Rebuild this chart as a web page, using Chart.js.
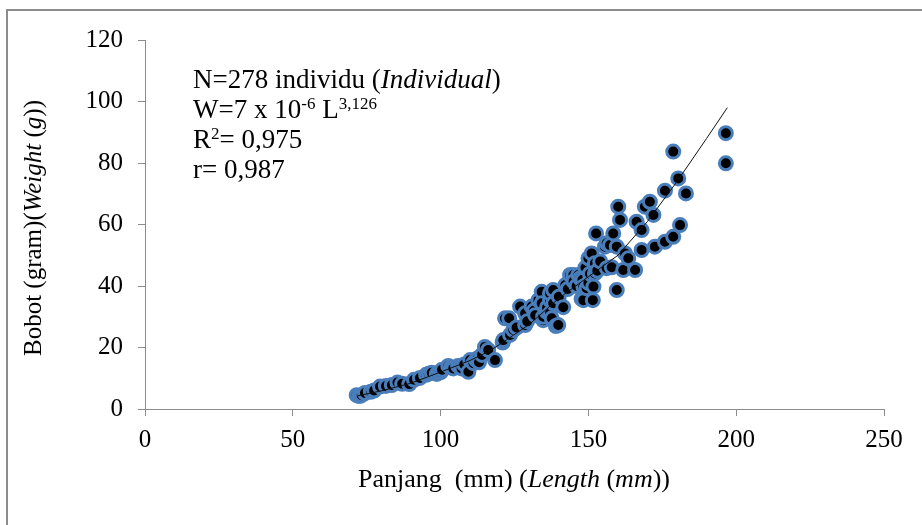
<!DOCTYPE html>
<html>
<head>
<meta charset="utf-8">
<script src="https://cdn.jsdelivr.net/npm/chart.js@4"></script>
<style>
  body { margin: 0; width: 922px; height: 525px; overflow: hidden; background: #fff; position: relative; font-family: "Liberation Serif", "DejaVu Serif", serif; color: #000; }
  #frame { position: absolute; left: 6px; top: 9px; width: 960px; height: 560px; border: 2px solid #8c8c8c; }
  #chart { position: absolute; left: 0; top: 0; }
  .lbl { position: absolute; white-space: nowrap; }
  #y-title { left: 33px; top: 228px; font-size: 25px; transform: translate(-50%, -50%) rotate(-90deg); }
  #x-title { left: 514px; top: 479px; font-size: 26px; transform: translate(-50%, -50%); }
  #note { left: 193px; top: 64px; font-size: 27px; line-height: 30px; }
  #note sup { font-size: 17px; vertical-align: 9px; line-height: 0; }
</style>
</head>
<body>
<div id="frame"></div>
<canvas id="chart" width="922" height="525"></canvas>
<div class="lbl" id="y-title">Bobot (gram)(<i>Weight</i> (<i>g</i>))</div>
<div class="lbl" id="x-title">Panjang&nbsp; (mm) (<i>Length</i> (<i>mm</i>))</div>
<div class="lbl" id="note">
  N=278 individu (<i>Individual</i>)<br>
  W=7 x 10<sup>-6</sup> L<sup>3,126</sup><br>
  R<sup>2</sup>= 0,975<br>
  r= 0,987
</div>
<script>
// observed fish
const lengthMm = [
  71.6, 72.5, 73.3, 74.4, 76.4, 77.5, 79.5, 81.5, 83.5, 85.4,
  87.0, 89.4, 91.0, 93.0, 95.1, 96.0, 97.0, 98.7, 99.5, 100.1,
  100.5, 102.6, 103.5, 104.3, 105.9, 106.5, 107.1, 108.0, 109.4, 110.0,
  111.1, 112.0, 112.7, 113.0, 114.0, 115.0, 116.1, 118.4, 121.0, 121.2,
  121.8, 123.2, 123.5, 124.6, 125.7, 126.9, 128.6, 128.6, 129.3, 130.8,
  131.6, 132.0, 133.1, 134.2, 134.2, 134.7, 134.7, 135.9, 136.0, 137.0,
  137.0, 137.0, 137.6, 138.1, 138.1, 139.0, 139.8, 140.0, 141.5, 142.2,
  143.0, 143.8, 144.9, 145.0, 146.0, 146.6, 147.2, 147.7, 148.0, 148.3,
  148.3, 149.0, 149.4, 150.0, 150.0, 150.5, 151.1, 151.5, 151.7, 152.2,
  152.2, 152.6, 153.0, 154.0, 155.6, 156.2, 156.2, 157.3, 157.9, 158.4,
  159.6, 159.6, 160.1, 160.7, 161.8, 162.4, 163.5, 165.8, 166.3, 168.0,
  168.0, 169.1, 170.8, 172.0, 172.5, 175.9, 175.9, 178.7, 178.7, 180.4,
  181.0, 183.0, 196.5, 196.5
];
const weightG = [
  4.5, 4.2, 4.5, 5.2, 5.6, 6.0, 7.3, 7.5, 7.8, 8.6,
  8.2, 8.1, 9.5, 10.1, 11.1, 11.5, 11.8, 11.4, 11.8, 12.0,
  12.8, 14.0, 13.5, 13.2, 14.0, 13.8, 13.2, 14.5, 12.1, 15.9,
  14.9, 16.0, 16.6, 15.2, 17.6, 20.2, 19.2, 15.9, 21.6, 22.4,
  29.5, 29.5, 24.1, 25.7, 26.5, 33.3, 31.1, 27.3, 28.5, 33.3,
  32.0, 30.5, 35.4, 38.1, 34.4, 28.9, 30.0, 31.6, 33.0, 31.1,
  35.4, 37.6, 29.5, 34.4, 38.7, 27.0, 27.3, 36.5, 33.1, 40.3,
  39.0, 43.6, 43.6, 41.5, 40.0, 43.6, 42.5, 35.8, 42.0, 39.8,
  35.4, 46.0, 39.3, 49.0, 41.0, 44.0, 50.6, 35.4, 39.8, 44.1,
  47.4, 57.1, 45.0, 48.0, 52.8, 45.8, 53.9, 53.3, 46.1, 57.1,
  38.7, 52.8, 65.8, 61.5, 45.2, 50.6, 49.0, 45.2, 60.9, 58.2,
  51.7, 65.8, 67.4, 63.1, 52.8, 54.4, 71.0, 56.0, 83.7, 75.0,
  59.8, 70.1, 89.7, 79.9
];

// fitted curve W = 7e-6 L^3.126, as drawn on the plot
const fitLength = [72, 80, 90, 100, 110, 116, 120, 130, 140, 150, 160, 170, 180, 190, 197];
const fitWeight = [4.3, 5.9, 8.4, 12.0, 15.8, 18.6, 21.0, 27.5, 36.0, 43.0, 50.0, 61.0, 74.0, 88.0, 98.0];

const xTicks = [0, 50, 100, 150, 200, 250];
const yTicks = [0, 20, 40, 60, 80, 100, 120];

const axisGrey = "#8c8c8c";
const tickFont = { family: "Liberation Serif", size: 25 };

const points = lengthMm.map((l, i) => ({ x: l, y: weightG[i] }));
const fit = fitLength.map((l, i) => ({ x: l, y: fitWeight[i] }));

new Chart(document.getElementById("chart"), {
  type: "scatter",
  data: {
    datasets: [
      {
        label: "fit",
        data: fit,
        showLine: true,
        borderColor: "#111",
        borderWidth: 1,
        pointRadius: 0,
        tension: 0,
        order: 0
      },
      {
        label: "observed",
        data: points,
        backgroundColor: "#000",
        borderColor: "#4a7ebb",
        borderWidth: 3,
        pointRadius: 6.5,
        order: 1
      }
    ]
  },
  options: {
    responsive: false,
    animation: false,
    devicePixelRatio: 1,
    layout: { padding: { top: 40, right: 38, left: 0, bottom: 0 } },
    plugins: { legend: { display: false }, tooltip: { enabled: false } },
    scales: {
      x: {
        type: "linear",
        min: xTicks[0],
        max: xTicks[xTicks.length - 1],
        afterFit: (scale) => { scale.height = 116; },
        afterBuildTicks: (scale) => { scale.ticks = xTicks.map(v => ({ value: v })); },
        ticks: { font: tickFont, color: "#000", padding: 9, maxRotation: 0 },
        grid: { drawOnChartArea: false, drawTicks: true, tickLength: 7, color: axisGrey },
        border: { color: axisGrey, width: 1 }
      },
      y: {
        type: "linear",
        min: yTicks[0],
        max: yTicks[yTicks.length - 1],
        afterFit: (scale) => { scale.width = 145; },
        afterBuildTicks: (scale) => { scale.ticks = yTicks.map(v => ({ value: v })); },
        ticks: { font: tickFont, color: "#000", padding: 15 },
        grid: { drawOnChartArea: false, drawTicks: true, tickLength: 7, color: axisGrey },
        border: { color: axisGrey, width: 1 }
      }
    }
  }
});
</script>
</body>
</html>
